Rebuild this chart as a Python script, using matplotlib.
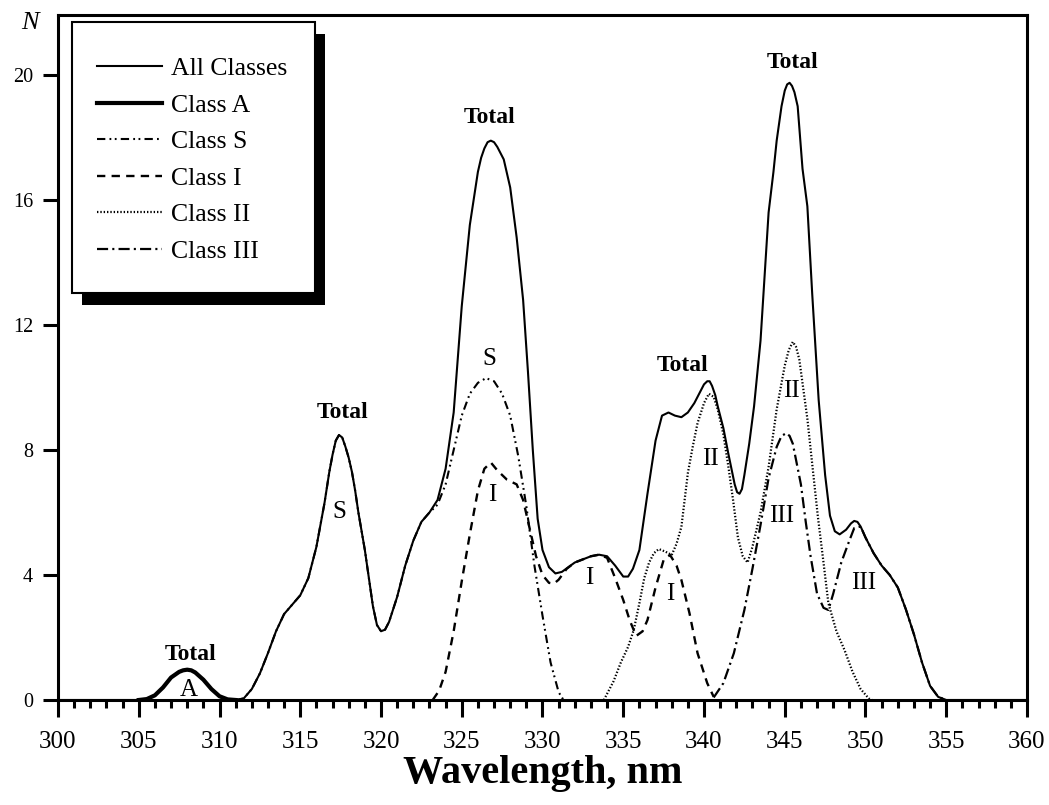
import numpy as np
import matplotlib
matplotlib.use("Agg")
import matplotlib.pyplot as plt
from matplotlib.patches import Rectangle
from matplotlib.transforms import IdentityTransform

plt.rcParams['font.family'] = ['Liberation Serif', 'DejaVu Serif']
plt.rcParams['lines.scale_dashes'] = False

# all classes (total)
total_wl = [300, 305.0, 305.5, 306.0, 306.5, 307.0, 307.5, 308.0, 308.5, 309.0, 309.5, 310.0, 310.5,
            311.0, 311.5, 312.0, 312.5, 313.0, 313.5, 314.0, 314.5, 315.0, 315.5, 316.0, 316.5, 316.8,
            317.0, 317.2, 317.4, 317.6, 317.8, 318.0, 318.2, 318.4, 318.6, 319.0, 319.5, 319.75, 320.0,
            320.25, 320.5, 321.0, 321.5, 322.0, 322.5, 323.0,
            323.5, 324.0, 324.5, 325.0, 325.5, 326.0, 326.2, 326.4, 326.6, 326.8, 327.0, 327.2, 327.4,
            327.6, 328.0, 328.4, 328.8,
            329.1, 329.4, 329.7, 330.0, 330.4, 330.8, 331.2, 331.6, 332.0, 332.5, 333.0, 333.5, 334.0,
            334.5, 335.0, 335.3, 335.6, 336.0, 336.5, 337.0, 337.4, 337.8, 338.2, 338.6, 339.0, 339.4,
            339.8, 340.0, 340.2, 340.35, 340.5, 340.7, 340.85, 341.2, 341.5, 341.9, 342.05, 342.2,
            342.35, 342.5, 342.8, 343.1, 343.5, 344.0,
            344.3, 344.5, 344.8, 345.0, 345.15, 345.3, 345.45, 345.6, 345.8, 346.1, 346.4, 346.7, 346.9,
            347.1, 347.5, 347.8, 348.1, 348.4, 348.8, 349.1, 349.3, 349.5, 349.7, 350.0, 350.5, 351.0,
            351.5, 352.0, 352.5, 353.0, 353.5, 354.0, 354.5, 355.0, 360]
total_n = [0, 0, 0.03, 0.15, 0.4, 0.72, 0.92, 0.97, 0.9, 0.65, 0.35, 0.12, 0.02,
           0, 0.05, 0.35, 0.85, 1.5, 2.2, 2.75, 3.05, 3.35, 3.9, 4.9, 6.3, 7.3,
           7.85, 8.3, 8.48, 8.4, 8.1, 7.75, 7.3, 6.7, 6.0, 4.8, 3.0, 2.4, 2.2,
           2.25, 2.5, 3.3, 4.3, 5.1, 5.7, 6.0,
           6.4, 7.4, 9.2, 12.6, 15.2, 16.9, 17.35, 17.65, 17.85, 17.9, 17.85, 17.7, 17.5,
           17.3, 16.4, 14.8, 12.8,
           10.5, 8.0, 5.8, 4.8, 4.25, 4.05, 4.1, 4.25, 4.4, 4.5, 4.6, 4.65, 4.6,
           4.3, 3.95, 3.95, 4.2, 4.8, 6.6, 8.3, 9.1, 9.2, 9.1, 9.05, 9.2, 9.5,
           9.9, 10.1, 10.2, 10.2, 10.05, 9.75, 9.4, 8.7, 7.9, 6.9, 6.65, 6.6,
           6.75, 7.2, 8.2, 9.4, 11.5, 15.6,
           16.9, 17.9, 19.0, 19.5, 19.7, 19.75, 19.65, 19.45, 19.0, 17.0, 15.8, 13.0, 11.3,
           9.6, 7.2, 5.9, 5.4, 5.3, 5.45, 5.65, 5.73, 5.7, 5.55, 5.2, 4.7, 4.3,
           4.0, 3.6, 2.9, 2.1, 1.2, 0.45, 0.1, 0, 0]

# class A
a_wl = [305.0, 305.5, 306.0, 306.5, 307.0, 307.5, 307.75, 308.0, 308.25, 308.5, 309.0, 309.5, 310.0,
        310.5, 311.0]
a_n = [0, 0.03, 0.15, 0.4, 0.72, 0.9, 0.95, 0.97, 0.95, 0.88, 0.65, 0.35, 0.12,
       0.02, 0]

# class S (same as total up to the 323 nm shoulder)
s_wl = [311.0, 311.5, 312.0, 312.5, 313.0, 313.5, 314.0, 314.5, 315.0, 315.5, 316.0, 316.5, 316.8,
        317.0, 317.2, 317.4, 317.6, 317.8, 318.0, 318.2, 318.4, 318.6, 319.0, 319.5, 319.75, 320.0,
        320.25, 320.5, 321.0, 321.5, 322.0, 322.5, 323.0,
        323.5, 324.0, 324.5, 325.0, 325.5, 326.0, 326.5, 327.0, 327.5, 328.0, 328.5, 329.0, 329.5,
        330.0, 330.5, 331.0, 331.3]
s_n = [0, 0.05, 0.35, 0.85, 1.5, 2.2, 2.75, 3.05, 3.35, 3.9, 4.9, 6.3, 7.3,
       7.85, 8.3, 8.48, 8.4, 8.1, 7.75, 7.3, 6.7, 6.0, 4.8, 3.0, 2.4, 2.2,
       2.25, 2.5, 3.3, 4.3, 5.1, 5.7, 6.0,
       6.25, 6.9, 8.0, 9.1, 9.8, 10.15, 10.3, 10.2, 9.8, 9.1, 7.8, 6.2, 4.3,
       2.7, 1.2, 0.25, 0]

# class I
i_wl = [323.2, 323.6, 324.0, 324.5, 325.0, 325.5, 326.0, 326.4, 326.8, 327.2, 327.8, 328.4, 328.8,
        329.2, 329.6, 330.0, 330.4, 330.7, 331.0, 331.5, 332.0, 332.5, 333.0, 333.5, 334.0, 334.5,
        335.0, 335.4, 335.8, 336.2, 336.5, 337.0, 337.5, 337.9, 338.3, 338.6, 339.1, 339.6, 340.2,
        340.6]
i_n = [0, 0.3, 0.9, 2.2, 3.8, 5.3, 6.7, 7.4, 7.6, 7.35, 7.05, 6.9, 6.4,
       5.5, 4.6, 4.0, 3.75, 3.72, 3.85, 4.2, 4.4, 4.5, 4.6, 4.65, 4.55, 3.9,
       3.2, 2.55, 2.05, 2.2, 2.56, 3.6, 4.48, 4.64, 4.3, 3.84, 2.78, 1.5, 0.54,
       0.1]

# class II
ii_wl = [333.8, 334.4, 334.85, 335.3, 335.65, 336.0, 336.3, 336.6, 336.9, 337.2, 337.6, 338.0,
         338.3, 338.6, 339.0, 339.3, 339.6, 340.0, 340.3, 340.6, 340.85, 341.2, 341.5, 341.8,
         342.1, 342.4, 342.7, 343.0, 343.5, 344.0, 344.5, 345.0, 345.25, 345.5, 345.7, 345.9, 346.4,
         347.05, 347.4, 347.7, 348.2, 348.7, 349.2, 349.7, 350.2, 350.4]
ii_n = [0, 0.6, 1.2, 1.7, 2.24, 3.1, 3.9, 4.4, 4.7, 4.83, 4.75, 4.64,
        5.0, 5.54, 7.26, 8.1, 8.86, 9.5, 9.8, 9.7, 9.3, 8.5, 7.5, 6.4,
        5.2, 4.6, 4.4, 4.9, 6.0, 7.46, 9.3, 10.7, 11.2, 11.46, 11.3, 10.9, 9.0,
        5.87, 4.4, 3.1, 2.2, 1.6, 0.9, 0.35, 0.05, 0]

# class III
iii_wl = [340.6, 341.2, 341.85, 342.5, 343.0, 343.5, 344.0, 344.5, 344.8, 345.1, 345.3, 345.5,
          346.0, 346.3, 346.6, 347.0, 347.4, 347.7, 348.0, 348.5, 349.0, 349.3, 349.7, 350.0,
          350.5, 351.0, 351.5, 352.0, 352.5, 353.0, 353.5, 354.0, 354.5, 355.0]
iii_n = [0.08, 0.54, 1.5, 2.88, 4.2, 5.6, 7.1, 8.1, 8.45, 8.54, 8.45, 8.2,
         6.9, 5.7, 4.6, 3.4, 2.95, 2.88, 3.4, 4.4, 5.1, 5.5, 5.55, 5.2,
         4.7, 4.3, 4.0, 3.6, 2.9, 2.1, 1.2, 0.45, 0.1, 0]

# peak annotations
total_lbl_x = [308.2, 317.6, 326.7, 338.7, 345.5]
total_lbl_y = [1.45, 9.2, 18.65, 10.7, 20.4]
cls_lbl = ['A', 'S', 'S', 'I', 'I', 'I', 'II', 'II', 'III', 'III']
cls_lbl_x = [308.1, 317.4, 326.7, 326.9, 332.9, 337.9, 340.4, 345.4, 344.8, 349.9]
cls_lbl_y = [0.32, 6.0, 10.9, 6.55, 3.9, 3.4, 7.7, 9.9, 5.9, 3.75]

fig = plt.figure(figsize=(10.49, 8.05), dpi=100)
ax = fig.add_axes([58 / 1049, 105 / 805, 969 / 1049, 685 / 805])

ax.plot(total_wl, total_n, color='black', lw=1.5, label='All Classes')
ax.plot(a_wl, a_n, color='black', lw=3.0, label='Class A')
ax.plot(s_wl, s_n, color='black', lw=1.5, ls=(0, (6, 3, 1.3, 2.5, 1.3, 3)), label='Class S')
ax.plot(i_wl, i_n, color='black', lw=1.7, ls=(0, (6, 4.5)), label='Class I')
ax.plot(ii_wl, ii_n, color='black', lw=1.6, ls=(0, (1.0, 1.4)), label='Class II')
ax.plot(iii_wl, iii_n, color='black', lw=1.6, ls=(0, (8, 3, 1.5, 3)), label='Class III')

for x, y in zip(total_lbl_x, total_lbl_y):
    ax.text(x, y, 'Total', fontsize=17, fontweight='bold', ha='center', va='center')
for t, x, y in zip(cls_lbl, cls_lbl_x, cls_lbl_y):
    ax.text(x, y, t, fontsize=18, ha='center', va='center')

ax.set_xlim(300, 360)
ax.set_ylim(0, 21.92)
ax.set_xticks(np.arange(300, 361, 5))
ax.set_xticks(np.arange(300, 361, 1), minor=True)
ax.set_yticks([0, 4, 8, 12, 16, 20])
ax.tick_params(axis='x', which='major', direction='out', length=12, width=2.2, labelsize=18, pad=10)
ax.tick_params(axis='x', which='minor', direction='out', length=6, width=2.2)
ax.tick_params(axis='y', which='major', direction='out', length=11, width=2.2, labelsize=14.5, pad=7)
for sp in ax.spines.values():
    sp.set_linewidth(2.2)

ax.set_xlabel('Wavelength, nm', fontsize=29, fontweight='bold', labelpad=2)
fig.text(30 / 1049, 1 - 23 / 805, 'N', fontsize=19, style='italic', ha='center', va='center')

# legend entries without frame; frame and shadow drawn around them below
leg = ax.legend(loc='upper left', bbox_to_anchor=(0.0402, 0.9387), borderaxespad=0,
                fontsize=18.5, frameon=False, handlelength=2.55, handletextpad=0.35,
                labelspacing=0.53, borderpad=0)
leg.set_zorder(6)

fig.canvas.draw()
bb = leg.get_window_extent()
fx0, fx1 = bb.x0 - 25, bb.x1 + 27
fy0, fy1 = bb.y0 - 30, bb.y1 + 35
shadow = Rectangle((fx0 + 10, fy0 - 12), fx1 - fx0, fy1 - fy0, transform=IdentityTransform(),
                   facecolor='black', edgecolor='none', zorder=4.5, clip_on=False)
frame = Rectangle((fx0, fy0), fx1 - fx0, fy1 - fy0, transform=IdentityTransform(),
                  facecolor='white', edgecolor='black', lw=1.5, zorder=4.6, clip_on=False)
ax.add_artist(shadow)
ax.add_artist(frame)

fig.savefig('out.png', dpi=100)
